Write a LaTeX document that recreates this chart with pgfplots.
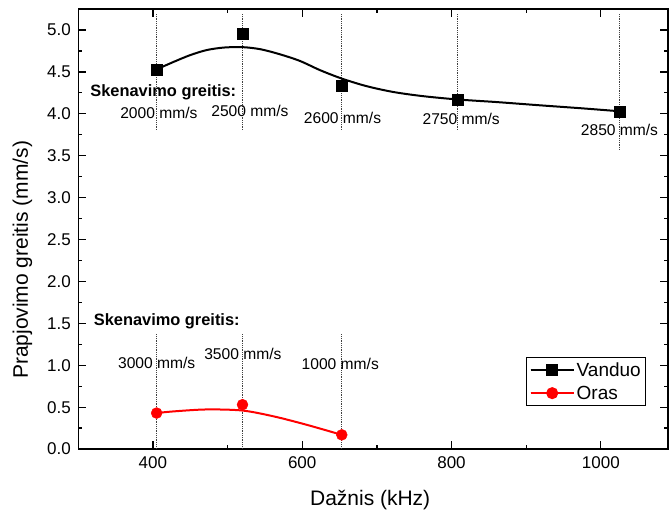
\documentclass[border=0pt]{standalone}
\usepackage{pgfplots}
\pgfplotsset{compat=1.18}
\usepackage{fontspec}
\setmainfont{Liberation Sans}
\usetikzlibrary{calc}
\begin{document}
\begin{tikzpicture}
\begin{axis}[
  scale only axis=true,
  width=590pt, height=440.3pt,
  xmin=300, xmax=1090, ymin=0, ymax=5.25,
  xtick={400,600,800,1000},
  ytick={0,0.5,...,5.0},
  minor x tick num=1, minor y tick num=1,
  tick align=inside,
  major tick length=8pt, minor tick length=4pt,
  axis line style={line width=1.3pt},
  every tick/.style={black, line width=1.3pt},
  /pgf/number format/assume math mode=true,
  yticklabel style={/pgf/number format/fixed, /pgf/number format/fixed zerofill, /pgf/number format/precision=1, xshift=-4pt},
  ticklabel style={font=\fontsize{17}{20}\selectfont},
  xticklabel style={yshift=-4pt, /pgf/number format/1000 sep={}},
  xlabel={Dažnis (kHz)},
  ylabel={Prapjovimo greitis (mm/s)},
  label style={font=\fontsize{21}{24}\selectfont},
  xlabel style={at={(axis description cs:0.495,-0.115)}, anchor=center},
  ylabel style={at={(axis description cs:-0.0946,0.43)}, anchor=center},
  legend style={at={(rel axis cs:0.963,0.209)}, anchor=north east, draw=black, line width=0.8pt,
    font=\fontsize{19}{22}\selectfont, row sep=4pt, inner xsep=3pt, inner ysep=3pt},
  legend cell align=left,
  legend image code/.code={
    \draw[#1, line width=2pt] (0pt,0pt) -- (43pt,0pt);
    \draw[#1, line width=2pt, mark repeat=2, mark phase=2] plot coordinates {(0pt,0pt) (21.5pt,0pt) (43pt,0pt)};
  },
  clip=false,
]
% vertical dotted guide lines
\addplot[densely dotted, line width=0.8pt, black!75, forget plot] coordinates {(405,5.19) (405,3.81)};
\addplot[densely dotted, line width=0.8pt, black!75, forget plot] coordinates {(520,5.19) (520,3.81)};
\addplot[densely dotted, line width=0.8pt, black!75, forget plot] coordinates {(653,5.19) (653,3.81)};
\addplot[densely dotted, line width=0.8pt, black!75, forget plot] coordinates {(808,5.19) (808,3.81)};
\addplot[densely dotted, line width=0.8pt, black!75, forget plot] coordinates {(1025,5.19) (1025,3.58)};
\addplot[densely dotted, line width=0.8pt, black!75, forget plot] coordinates {(405,1.37) (405,0)};
\addplot[densely dotted, line width=0.8pt, black!75, forget plot] coordinates {(520,1.37) (520,0)};
\addplot[densely dotted, line width=0.8pt, black!75, forget plot] coordinates {(653,1.37) (653,0)};
% fitted curves
\addplot[black, line width=2pt, smooth, tension=0.5, forget plot] coordinates {
 (405,4.53) (428,4.62) (450,4.70) (472,4.76) (495,4.79) (520,4.795) (544,4.77)
 (570,4.71) (597,4.63) (624,4.52) (653,4.42) (686,4.33) (722,4.26) (762,4.21)
 (809,4.17) (860,4.14) (920,4.10) (975,4.065) (1025,4.03)};
\addplot[red, line width=2pt, smooth, tension=0.5, forget plot] coordinates {
 (405,0.43) (428,0.45) (472,0.473) (520,0.46) (562,0.39) (606,0.29) (653,0.17)};
% data points
\addplot[only marks, mark=square*, mark size=5.5pt, black, forget plot] coordinates {
 (405,4.52) (520,4.96) (653,4.34) (808,4.17) (1025,4.03)};
\addplot[only marks, mark=*, mark size=5.5pt, red, forget plot] coordinates {
 (405,0.43) (520,0.53) (653,0.17)};
\addlegendimage{black, mark=square*, mark size=5pt}
\addlegendentry{Vanduo}
\addlegendimage{red, mark=*, mark size=5pt}
\addlegendentry{Oras}
% annotations
\node[anchor=west, font=\fontsize{16.4}{19}\selectfont\bfseries, inner sep=0pt] at (axis cs:316,4.26) {Skenavimo greitis:};
\node[anchor=west, font=\fontsize{16.4}{19}\selectfont\bfseries, inner sep=0pt] at (axis cs:320.6,1.52) {Skenavimo greitis:};
\tikzset{spd/.style={anchor=center, font=\fontsize{15.6}{18}\selectfont, inner sep=0pt}}
\node[spd] at (axis cs:408,4.01) {2000 mm/s};
\node[spd] at (axis cs:530,4.03) {2500 mm/s};
\node[spd] at (axis cs:654,3.95) {2600 mm/s};
\node[spd] at (axis cs:813,3.94) {2750 mm/s};
\node[spd] at (axis cs:1025,3.81) {2850 mm/s};
\node[spd] at (axis cs:405,1.03) {3000 mm/s};
\node[spd] at (axis cs:520.5,1.13) {3500 mm/s};
\node[spd] at (axis cs:651,1.02) {1000 mm/s};
\end{axis}
\path ($(current axis.south west)+(-78.3pt,-62.7pt)$) rectangle ($(current axis.north east)+(1pt,9pt)$);
\end{tikzpicture}
\end{document}
